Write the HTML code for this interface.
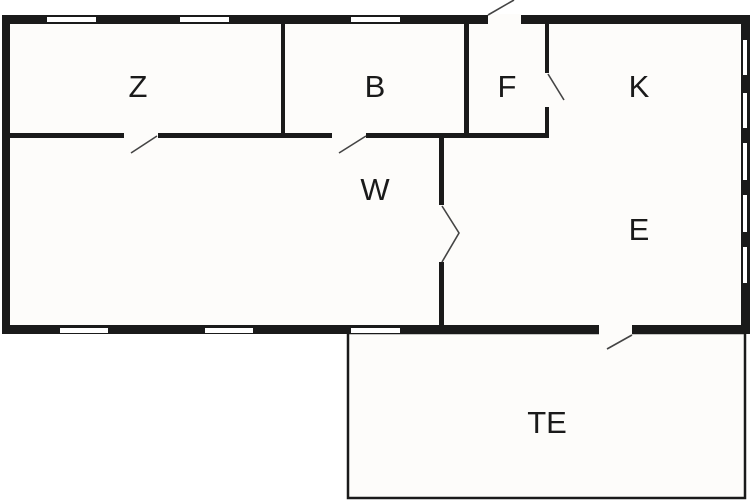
<!DOCTYPE html>
<html><head><style>
html,body{margin:0;padding:0;background:#fff;}
svg{display:block;}
text{font-family:"Liberation Sans",sans-serif;font-size:31px;fill:#1a1a1a;text-anchor:middle;}
</style></head><body>
<svg width="750" height="500" viewBox="0 0 750 500" xmlns="http://www.w3.org/2000/svg">
<rect x="0" y="0" width="750" height="500" fill="#ffffff"/>
<!-- floors -->
<rect x="10" y="23" width="732" height="303" fill="#fdfcfa"/>
<rect x="348" y="333" width="397" height="165" fill="#fdfcfa" stroke="#1a1a1a" stroke-width="2.5"/>
<!-- outer walls -->
<g fill="#1a1a1a">
<rect x="2" y="15" width="746" height="9"/>
<rect x="2" y="15" width="8" height="319"/>
<rect x="741" y="15" width="9" height="319"/>
<rect x="2" y="325" width="748" height="9"/>
<!-- interior -->
<rect x="10" y="133" width="457" height="5"/>
<rect x="465" y="133" width="84" height="5"/>
<rect x="281" y="23" width="4" height="112"/>
<rect x="464" y="23" width="5" height="113"/>
<rect x="545" y="23" width="4" height="114"/>
<rect x="439" y="137" width="5" height="190"/>
</g>
<!-- windows -->
<g fill="#ffffff">
<rect x="47" y="17" width="49" height="5"/>
<rect x="180" y="17" width="49" height="5"/>
<rect x="351" y="17" width="49" height="5"/>
<rect x="60" y="328" width="48" height="5"/>
<rect x="205" y="328" width="48" height="5"/>
<rect x="351" y="328" width="49" height="5"/>
<rect x="743" y="40" width="4" height="35"/>
<rect x="743" y="93" width="4" height="35"/>
<rect x="743" y="143" width="4" height="37"/>
<rect x="743" y="195" width="4" height="37"/>
<rect x="743" y="247" width="4" height="36"/>
</g>
<!-- door openings -->
<g fill="#fdfcfa">
<rect x="488" y="14" width="33" height="11"/>
<rect x="544" y="73" width="6" height="34"/>
<rect x="124" y="132" width="34" height="7"/>
<rect x="332" y="132" width="34" height="7"/>
<rect x="438" y="205" width="7" height="57"/>
<rect x="599" y="324" width="33" height="11"/>
</g>
<!-- door leaves -->
<g stroke="#444" stroke-width="1.6" fill="none">
<line x1="488" y1="15" x2="514" y2="0"/>
<line x1="548" y1="74" x2="564" y2="100"/>
<line x1="157" y1="136" x2="131" y2="153"/>
<line x1="366" y1="136" x2="339" y2="153"/>
<polyline points="442,206 459,233 442,262"/>
<line x1="632" y1="335" x2="607" y2="349"/>
</g>
<text x="138" y="97">Z</text>
<text x="375" y="97">B</text>
<text x="507" y="97">F</text>
<text x="639" y="97">K</text>
<text x="375" y="200">W</text>
<text x="639" y="240">E</text>
<text x="547" y="433">TE</text>
</svg>
</body></html>
